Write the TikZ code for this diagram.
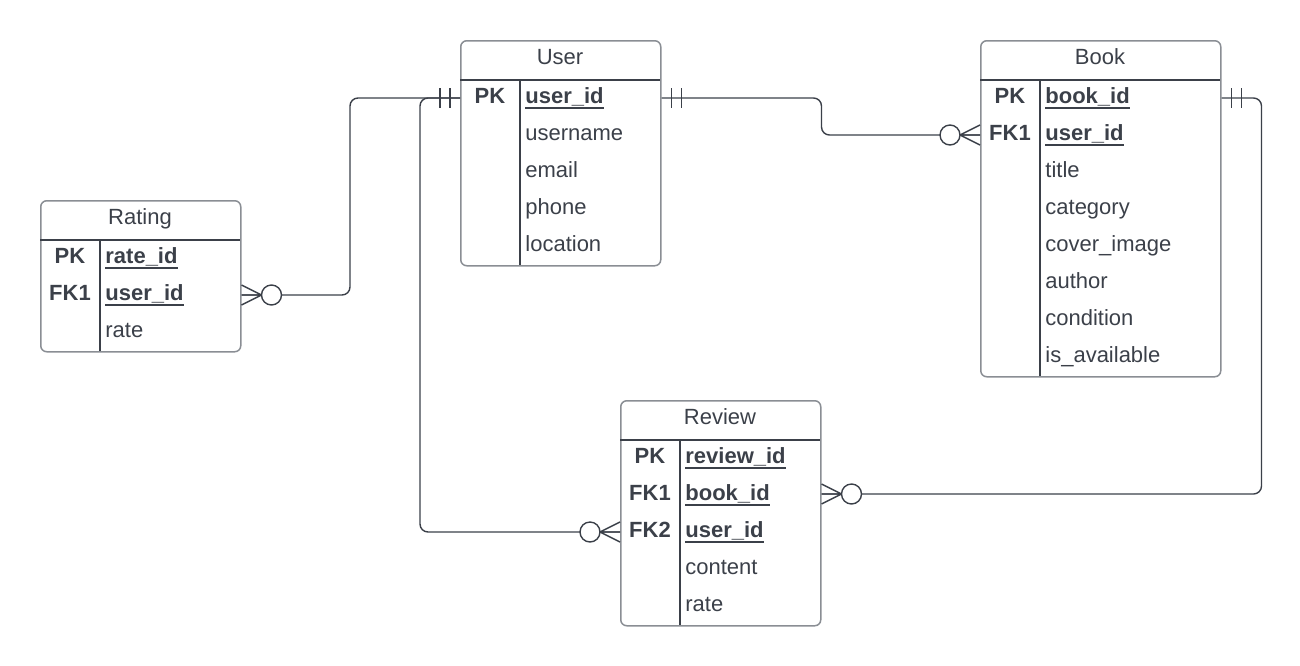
\documentclass[tikz,border=0pt]{standalone}
\usepackage{fontspec}
\setmainfont{Liberation Sans}
\usetikzlibrary{positioning}
\definecolor{ink}{HTML}{3B4049}
\definecolor{frame}{HTML}{8A8E94}
\newcommand\keyline[1]{\setbox0\hbox{#1}\rlap{\rule[-2.35pt]{\wd0}{1pt}}\box0}
\tikzset{
  tbl/.style={draw=frame, line width=0.75pt, rounded corners=3pt, inner sep=0pt, anchor=north west},
  txt/.style={text=ink, font=\fontsize{11}{13}\selectfont, text height=7.9pt, text depth=0pt, inner sep=0pt},
  field/.style={txt, anchor=west},
  keycol/.style={txt, font=\fontsize{11}{13}\selectfont\bfseries},
  conn/.style={draw=ink, line width=0.7pt, rounded corners=4pt},
  onemand/.pic={\draw[ink, line width=0.7pt] (10,-10) -- (10,10) (20,-10) -- (20,10);},
  zeromany/.pic={\draw[ink, line width=0.7pt] (0,-10) -- (20,0) -- (0,10) (0,0) -- (20,0);
    \draw[ink, line width=0.7pt, fill=white] (30,0) circle[radius=5pt];}
}
\begin{document}
\begin{tikzpicture}[x=0.5pt,y=-0.5pt]
\useasboundingbox (0,0) rectangle (1300,665);
% user
\node[tbl, minimum width=100pt, minimum height=112.5pt] (user) at (460,40) {};
\draw[ink, line width=0.6pt] (460,80) -- (660,80) (520,80) -- (520,265);
\node[txt] (usertitle) at (560,57) {User};
\node[keycol] (userpk) at (490,96) {PK};
\node[field] (userid) at (525,96) {\bfseries\keyline{user\_id}};
\foreach \f [count=\i from 1] in {username,email,phone,location}
  \node[field] (user-\i) at (525,{96+37*\i}) {\f};
% book
\node[tbl, minimum width=120pt, minimum height=168pt] (book) at (980,40) {};
\draw[ink, line width=0.6pt] (980,80) -- (1220,80) (1040,80) -- (1040,376);
\node[txt] (booktitle) at (1100,57) {Book};
\node[keycol] (bookpk) at (1010,96) {PK};
\node[keycol] (bookfk) at (1010,133) {FK1};
\node[field] (bookid) at (1045,96) {\bfseries\keyline{book\_id}};
\node[field] (bookuser) at (1045,133) {\bfseries\keyline{user\_id}};
\foreach \f [count=\i from 2] in {title,category,cover\_image,author,condition,is\_available}
  \node[field] (book-\i) at (1045,{96+37*\i}) {\f};
% rating
\node[tbl, minimum width=100pt, minimum height=75.5pt] (rating) at (40,200) {};
\draw[ink, line width=0.6pt] (40,240) -- (240,240) (100,240) -- (100,351);
\node[txt] (ratingtitle) at (140,217) {Rating};
\node[keycol] (ratingpk) at (70,256) {PK};
\node[keycol] (ratingfk) at (70,293) {FK1};
\node[field] (rateid) at (105,256) {\bfseries\keyline{rate\_id}};
\node[field] (rateuser) at (105,293) {\bfseries\keyline{user\_id}};
\node[field] (rate) at (105,330) {rate};
% review
\node[tbl, minimum width=100pt, minimum height=112.5pt] (review) at (620,400) {};
\draw[ink, line width=0.6pt] (620,440) -- (820,440) (680,440) -- (680,625);
\node[txt] (reviewtitle) at (720,417) {Review};
\node[keycol] (reviewpk) at (650,456) {PK};
\node[keycol] (reviewfka) at (650,493) {FK1};
\node[keycol] (reviewfkb) at (650,530) {FK2};
\node[field] (reviewid) at (685,456) {\bfseries\keyline{review\_id}};
\node[field] (reviewbook) at (685,493) {\bfseries\keyline{book\_id}};
\node[field] (reviewuser) at (685,530) {\bfseries\keyline{user\_id}};
\node[field] (content) at (685,567) {content};
\node[field] (reviewrate) at (685,604) {rate};
% relations
\draw[conn] ([yshift=-1pt]user.west |- userpk) -- ++(-110,0) |- ([yshift=-1pt]rating.east |- ratingfk);
\draw[conn] ([yshift=-1pt]user.west |- userpk) -- ++(-40,0) |- ([yshift=-1pt]review.west |- reviewfkb);
\draw[conn] ([yshift=-1pt]user.east |- userpk) -- ++(160,0) |- ([yshift=-1pt]book.west |- bookfk);
\draw[conn] ([yshift=-1pt]book.east |- bookpk) -- ++(40,0) |- ([yshift=-0.5pt]review.east |- reviewfka);
\pic[xscale=-1] at ([yshift=-1pt]user.west |- userpk) {onemand};
\pic at ([yshift=-1pt]user.east |- userpk) {onemand};
\pic at ([yshift=-1pt]book.east |- bookpk) {onemand};
\pic at ([yshift=-1pt]rating.east |- ratingfk) {zeromany};
\pic[xscale=-1] at ([yshift=-1pt]book.west |- bookfk) {zeromany};
\pic[xscale=-1] at ([yshift=-1pt]review.west |- reviewfkb) {zeromany};
\pic at ([yshift=-0.5pt]review.east |- reviewfka) {zeromany};
\end{tikzpicture}
\end{document}
